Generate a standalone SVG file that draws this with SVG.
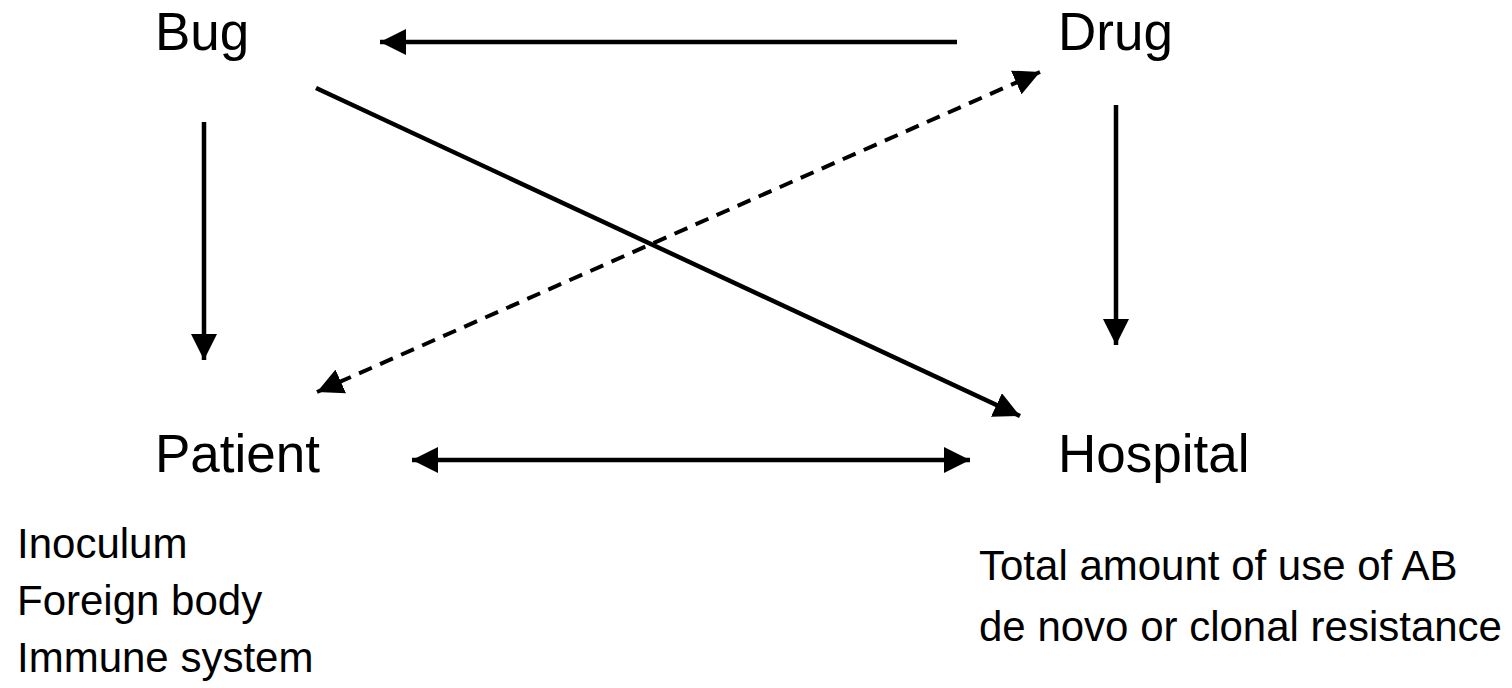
<svg xmlns="http://www.w3.org/2000/svg" width="1512" height="688" viewBox="0 0 1512 688">
  <style>
    .label { font-family: "Liberation Sans", Arial, sans-serif; font-size: 53px; fill: #000; }
    .note { font-family: "Liberation Sans", Arial, sans-serif; font-size: 42px; fill: #000; }
    .edge { stroke: #000; stroke-width: 4.5; fill: none; }
    .dashed { stroke-dasharray: 14 9; stroke-width: 4; }
  </style>
  <defs>
    <marker id="head" viewBox="0 0 26 26" refX="26" refY="13" markerWidth="26" markerHeight="26" markerUnits="userSpaceOnUse" orient="auto-start-reverse">
      <path d="M0,0 L26,13 L0,26 Z" fill="#000"/>
    </marker>
  </defs>
  <rect width="1512" height="688" fill="#fff"/>

  <g id="connectors">
    <!-- Drug to Bug -->
    <line class="edge" x1="957" y1="42" x2="380" y2="42" marker-end="url(#head)"/>
    <!-- Bug to Patient -->
    <line class="edge" x1="204" y1="122" x2="204" y2="360" marker-end="url(#head)"/>
    <!-- Drug to Hospital -->
    <line class="edge" x1="1116" y1="105" x2="1116" y2="345" marker-end="url(#head)"/>
    <!-- Bug to Hospital -->
    <line class="edge" x1="316" y1="88" x2="1020" y2="416" marker-end="url(#head)"/>
    <!-- Patient and Drug, two-way, dashed -->
    <line class="edge dashed" x1="317" y1="392" x2="1040" y2="72" marker-start="url(#head)" marker-end="url(#head)"/>
    <!-- Patient and Hospital, two-way -->
    <line class="edge" x1="412" y1="460" x2="970" y2="460" marker-start="url(#head)" marker-end="url(#head)"/>
  </g>

  <g id="bug"><text class="label" x="155" y="50">Bug</text></g>
  <g id="drug"><text class="label" x="1058" y="50">Drug</text></g>
  <g id="patient">
    <text class="label" x="155" y="472">Patient</text>
    <text class="note" x="17" y="558">Inoculum</text>
    <text class="note" x="17" y="615">Foreign body</text>
    <text class="note" x="17" y="672">Immune system</text>
  </g>
  <g id="hospital">
    <text class="label" x="1058" y="472">Hospital</text>
    <text class="note" x="979" y="580">Total amount of use of AB</text>
    <text class="note" x="979" y="641">de novo or clonal resistance</text>
  </g>
</svg>
